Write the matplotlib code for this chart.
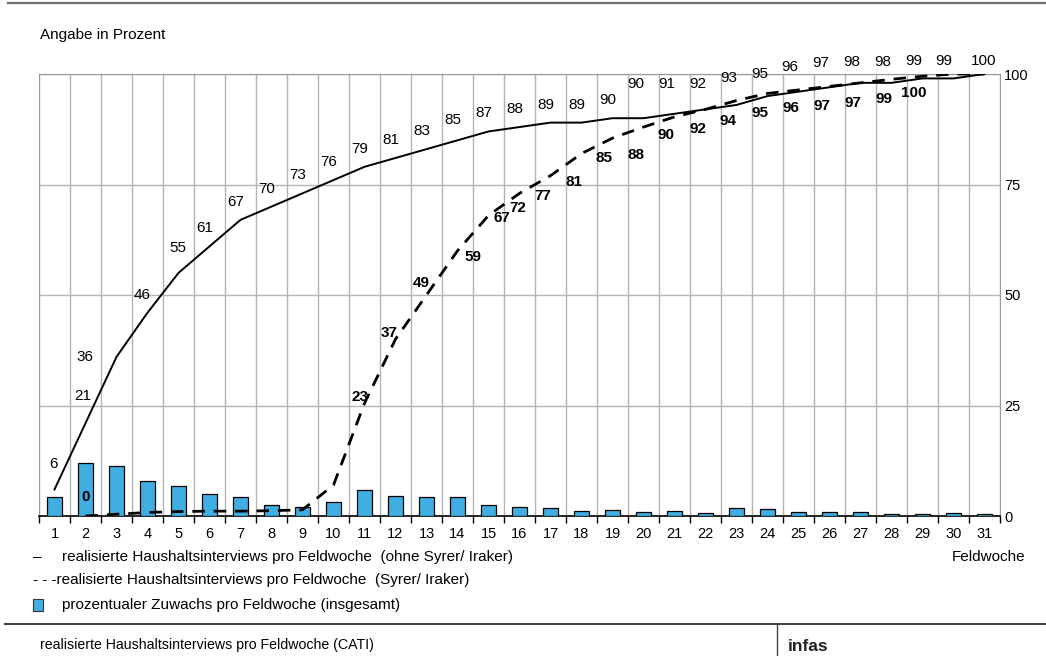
import matplotlib
matplotlib.use('Agg')
import matplotlib.pyplot as plt
from matplotlib.lines import Line2D
from matplotlib.patches import Rectangle

plt.rcParams['font.family'] = ['Liberation Sans', 'DejaVu Sans']

# --- data -----------------------------------------------------------------
weeks = list(range(1, 32))
zuwachs = [4.3, 12.0, 11.3, 8.0, 6.9, 5.0, 4.4, 2.5, 2.1, 3.1, 5.8, 4.5, 4.2,
           4.2, 2.6, 2.1, 1.7, 1.1, 1.3, 0.8, 1.1, 0.7, 1.7, 1.5, 0.9, 0.8,
           0.9, 0.5, 0.5, 0.6, 0.4]
ohne_syrer = [6, 21, 36, 46, 55, 61, 67, 70, 73, 76, 79, 81, 83, 85, 87, 88,
              89, 89, 90, 90, 91, 92, 93, 95, 96, 97, 98, 98, 99, 99, 100]
syrer_weeks = list(range(2, 32))
syrer = [0, 0.4, 0.8, 1.0, 1.1, 1.1, 1.2, 1.4, 7, 25.5, 40, 50, 60, 68, 73,
         77, 82, 85.5, 88, 90.3, 92, 94, 95.6, 96.4, 97.2, 98, 98.8, 99.5,
         100, 100]
syrer_label_weeks = [2] + list(range(11, 30))
syrer_label_vals = [0, 23, 37, 49, 59, 67, 72, 77, 81, 85, 88, 90, 92, 94, 95,
                    96, 97, 97, 99, 100]

# label offsets in pixels (dx, dy up)
ohne_off_default = (-5, 18)
ohne_off = {1: (-1, 25), 2: (-3, 27), 3: (-32, 0), 5: (-1, 25), 14: (-5, 20),
            20: (-8, 34), 21: (-8, 30), 22: (-8, 25), 23: (-8, 27),
            24: (-8, 22), 25: (-9, 25), 26: (-9, 24), 27: (-9, 21),
            28: (-9, 21), 29: (-9, 17), 30: (-10, 17), 31: (-1, 13)}
syrer_off_default = (-8, -20)
syrer_off = {2: (0, 19), 11: (-4, 6), 12: (-6, 6), 13: (-5, 12),
             14: (15, -6), 15: (13, -3), 16: (-2, -15), 18: (-8, -28),
             20: (-8, -28), 21: (-8, -18), 25: (-8, -18), 29: (-9, -17)}

GRID = '#b4b4b4'
BLUE = '#40AEE3'

fig = plt.figure(figsize=(10.46, 6.56), dpi=100)
ax = fig.add_axes([39 / 1046, 1 - 516 / 656, 961 / 1046, 442 / 656])

ax.bar(weeks, zuwachs, width=0.5, color=BLUE, edgecolor='black',
       linewidth=0.9, zorder=3)
ax.plot(weeks, ohne_syrer, color='black', lw=1.4, zorder=4)
ax.plot(syrer_weeks, syrer, color='black', lw=2.0, dashes=(4.5, 3.2),
        zorder=4)

for w, v in zip(weeks, ohne_syrer):
    dx, dy = ohne_off.get(w, ohne_off_default)
    ax.annotate(str(v), (w, v), xytext=(dx, dy), textcoords='offset pixels',
                ha='center', va='center', fontsize=11, zorder=5,
                annotation_clip=False)
syr = dict(zip(syrer_weeks, syrer))
for w, v in zip(syrer_label_weeks, syrer_label_vals):
    dx, dy = syrer_off.get(w, syrer_off_default)
    ax.annotate(str(v), (w, syr[w]), xytext=(dx, dy),
                textcoords='offset pixels', ha='center', va='center',
                fontsize=11, fontweight='bold', zorder=5,
                annotation_clip=False)

ax.set_xlim(0.5, 31.5)
ax.set_ylim(0, 100)
ax.set_xticks(weeks)
ax.set_xticks([w + 0.5 for w in range(0, 32)], minor=True)
ax.tick_params(axis='x', which='major', length=0, pad=8, labelsize=10.5)
ax.tick_params(axis='x', which='minor', length=5, width=1, color='black')
ax.xaxis.grid(True, which='minor', color=GRID, lw=1)
ax.yaxis.tick_right()
ax.set_yticks([0, 25, 50, 75, 100])
ax.tick_params(axis='y', length=0, pad=3, labelsize=10.5)
ax.yaxis.grid(True, color=GRID, lw=1)
ax.set_axisbelow(True)
for s in ('left', 'right', 'top'):
    ax.spines[s].set_color('#999999')
ax.spines['bottom'].set_color('black')
ax.spines['bottom'].set_linewidth(1.2)


def fy(px):
    return 1 - px / 656


fig.add_artist(Line2D([8 / 1046, 1], [fy(3), fy(3)], color='#6e6e6e', lw=1.6))
fig.text(40 / 1046, fy(35), 'Angabe in Prozent', fontsize=11, va='center')

fig.text(33 / 1046, fy(557), '–', fontsize=11, va='center')
fig.text(62 / 1046, fy(557),
         'realisierte Haushaltsinterviews pro Feldwoche  (ohne Syrer/ Iraker)',
         fontsize=11, va='center')
fig.text(33 / 1046, fy(580),
         '- - -realisierte Haushaltsinterviews pro Feldwoche  (Syrer/ Iraker)',
         fontsize=11, va='center')
fig.add_artist(Rectangle((33 / 1046, fy(611)), 10 / 1046, 12 / 656,
                         facecolor=BLUE, edgecolor='#333333', lw=0.8))
fig.text(62 / 1046, fy(605), 'prozentualer Zuwachs pro Feldwoche (insgesamt)',
         fontsize=11, va='center')
fig.text(1025 / 1046, fy(557), 'Feldwoche', fontsize=11, va='center',
         ha='right')

fig.add_artist(Line2D([5 / 1046, 1], [fy(624), fy(624)], color='#444444',
                      lw=1.5))
fig.add_artist(Line2D([777 / 1046, 777 / 1046], [fy(624), 0],
                      color='#444444', lw=1))
fig.text(40 / 1046, fy(645),
         'realisierte Haushaltsinterviews pro Feldwoche (CATI)',
         fontsize=10.2, va='center')
fig.text(788 / 1046, fy(654), 'infas', fontsize=12.5, fontweight='bold',
         va='bottom', color='#222222')

fig.savefig('out.png', dpi=100)
